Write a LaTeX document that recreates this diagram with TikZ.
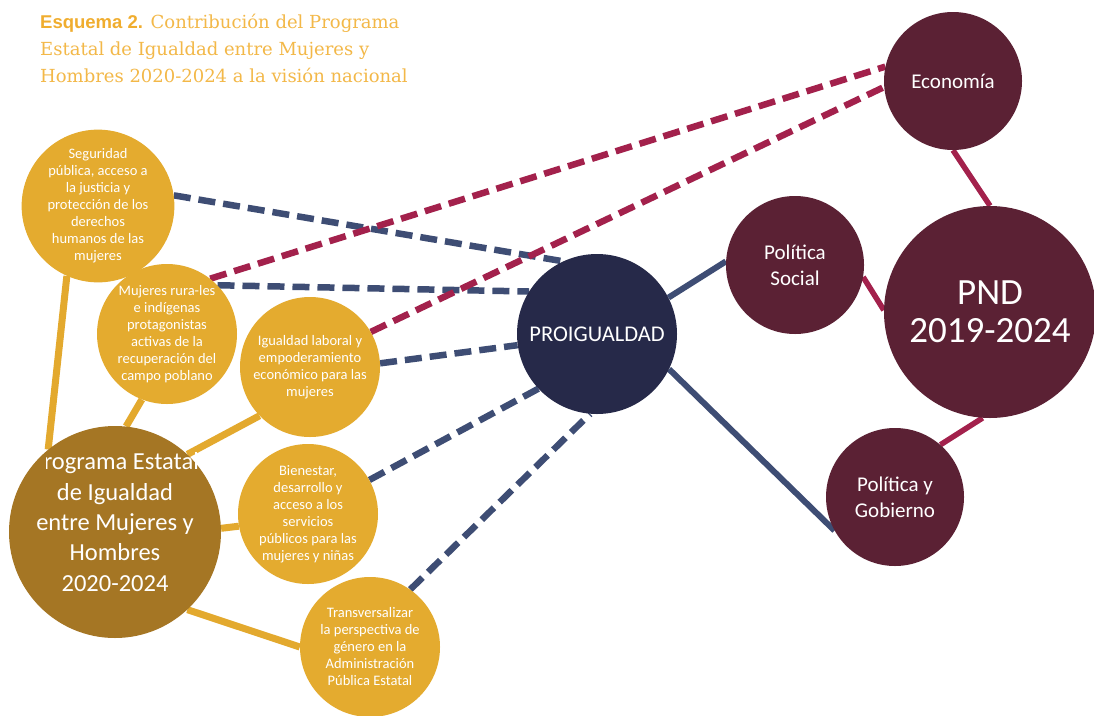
\documentclass[tikz,border=0pt]{standalone}
\usepackage{fontspec}
\setmainfont{Carlito}
\newfontfamily\titleserif{DejaVu Serif}
\newfontfamily\titlesans{Liberation Sans}
\definecolor{vino}{HTML}{5B2134}
\definecolor{marino}{HTML}{262949}
\definecolor{oro}{HTML}{E4AB2F}
\definecolor{ocre}{HTML}{A57624}
\definecolor{lineazul}{HTML}{3E4D74}
\definecolor{linearoja}{HTML}{A3214C}
\definecolor{lineaoro}{HTML}{E3A92E}
\definecolor{colortit}{HTML}{F3B848}
\definecolor{colortitb}{HTML}{F0AD2E}
\pgfdeclarelayer{bg}
\pgfsetlayers{bg,main}

\begin{document}
\begin{tikzpicture}[x=1pt, y=-1pt,
	circ/.style={circle, inner sep=0pt, align=center, text=white},
	eje/.style={circ, fill=oro, minimum size=140pt, font=\fontsize{14.5}{17}\selectfont},
	nac/.style={circ, fill=vino, minimum size=138pt, font=\fontsize{21}{26}\selectfont},
	azul/.style={line width=6pt, lineazul},
	roja/.style={line width=5.5pt, linearoja},
	oroln/.style={line width=7pt, lineaoro},
	guion/.style={line width=6.5pt, dash pattern=on 17pt off 8pt}]
	\useasboundingbox (0,0) rectangle (1094,715);
	% titulo
	\node[anchor=north west, inner sep=0pt, align=left, text=colortit, font=\titleserif\fontsize{18}{27}\selectfont] (titulo) at (40,14)
		{{\titlesans\bfseries\fontsize{18.5}{27}\selectfont\color{colortitb}Esquema 2.} Contribución del Programa\\Estatal de Igualdad entre Mujeres y\\Hombres 2020-2024 a la visión nacional};
	% nivel nacional
	\node[nac] (eco) at (953,81) {Economía};
	\node[nac, minimum size=212pt, font=\fontsize{37}{38}\selectfont] (pnd) at (990,312) {PND\\2019-2024};
	\node[nac] (psoc) at (795,265) {Política\\Social};
	\node[nac] (pgob) at (895,497) {Política y\\Gobierno};
	\node[circ, fill=marino, minimum size=160pt, font=\fontsize{22.5}{24}\selectfont] (proig) at (597,334) {PROIGUALDAD};
	% programa estatal
	\node[circ, fill=ocre, minimum size=212pt] (prog) at (115,532) {};
	\begin{scope}
		\clip (46,430) -- (197,430) -- (197,474) -- (230,474) -- (230,610) -- (0,610) -- (0,474) -- (46,474) -- cycle;
		\node[font=\fontsize{24.5}{30.3}\selectfont, align=center, text=white, inner sep=0pt] (progtxt) at (115,522)
			{Programa Estatal\\de Igualdad\\entre Mujeres y\\Hombres\\2020-2024};
	\end{scope}
	\node[eje] (seg) at (98,206) {Seguridad\\pública, acceso a\\la justicia y\\protección de los\\derechos\\humanos de las\\mujeres};
	\node[eje] (rur) at (167,334) {Mujeres rura-les\\e indígenas\\protagonistas\\activas de la\\recuperación del\\campo poblano};
	\node[eje] (igu) at (310,367) {Igualdad laboral y\\empoderamiento\\económico para las\\mujeres};
	\node[eje] (bien) at (308,514) {Bienestar,\\desarrollo y\\acceso a los\\servicios\\públicos para las\\mujeres y niñas};
	\node[eje] (trans) at (370,647) {Transversalizar\\la perspectiva de\\género en la\\Administración\\Pública Estatal};
	% conexiones
	\begin{pgfonlayer}{bg}
		\fill[white] (0,0) rectangle (1094,715);
		\draw[roja] (eco.-90) -- (pnd.90);
		\draw[roja] (psoc.-10) -- (pnd.179);
		\draw[roja] (pnd.-94) -- (pgob.49);
		\draw[azul] (proig.27) -- (psoc.177);
		\draw[azul] (proig.-26) -- (pgob.-151);
		\foreach \a/\b in {seg.8/proig.115, rur.44/proig.148, igu.3/proig.-172, bien.29/proig.223, trans.55/proig.265}
			\draw[azul, guion] (\a) -- (\b);
		\draw[roja, guion] (rur.52) -- (eco.168);
		\draw[roja, guion] (igu.30) -- (eco.185);
		\foreach \a/\b in {prog.129/seg.-114, prog.84/rur.-111, prog.47/igu.-136, prog.2/bien.-170, prog.-47/trans.180}
			\draw[oroln] (\a) -- (\b);
	\end{pgfonlayer}
\end{tikzpicture}
\end{document}
